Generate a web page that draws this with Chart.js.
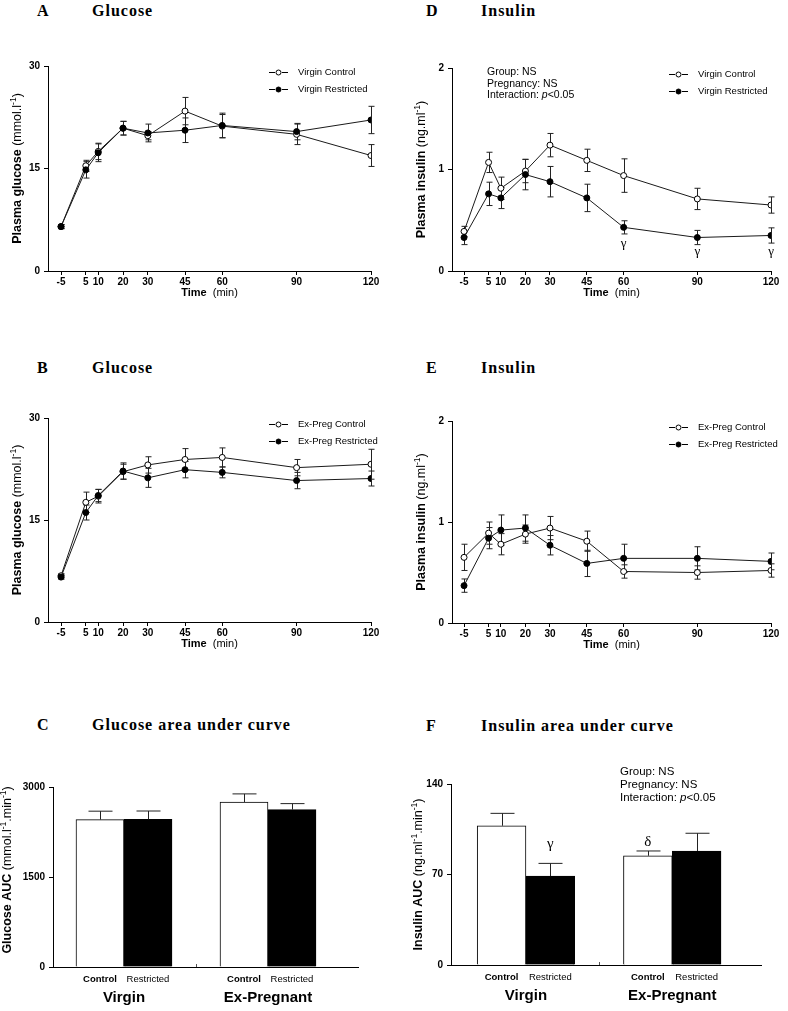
<!DOCTYPE html>
<html lang="en">
<head>
<meta charset="UTF-8">
<title>Glucose and insulin tolerance</title>
<script src="https://cdn.jsdelivr.net/npm/chart.js@4/dist/chart.umd.min.js"></script>
<style>
  body { margin: 0; width: 788px; height: 1011px; position: relative; background: #fff; overflow: hidden; }
  canvas { position: absolute; }
  .ttl { position: absolute; font: bold 16px "Liberation Serif", "Times New Roman", serif; letter-spacing: 1px; line-height: 20px; white-space: nowrap; color: #000; }
</style>
</head>
<body>
<div class="ttl" style="left:37px;top:1px">A</div>
<div class="ttl" style="left:92px;top:1px">Glucose</div>
<div class="ttl" style="left:426px;top:1px">D</div>
<div class="ttl" style="left:481px;top:1px">Insulin</div>
<div class="ttl" style="left:37px;top:358px">B</div>
<div class="ttl" style="left:92px;top:358px">Glucose</div>
<div class="ttl" style="left:426px;top:358px">E</div>
<div class="ttl" style="left:481px;top:358px">Insulin</div>
<div class="ttl" style="left:37px;top:715px">C</div>
<div class="ttl" style="left:92px;top:715px">Glucose area under curve</div>
<div class="ttl" style="left:426px;top:716px">F</div>
<div class="ttl" style="left:481px;top:716px">Insulin area under curve</div>

<canvas id="pA" width="394" height="270" style="left:0;top:40px"></canvas>
<canvas id="pD" width="394" height="270" style="left:394px;top:40px"></canvas>
<canvas id="pB" width="394" height="270" style="left:0;top:390px"></canvas>
<canvas id="pE" width="394" height="270" style="left:394px;top:390px"></canvas>
<canvas id="pC" width="394" height="261" style="left:0;top:750px"></canvas>
<canvas id="pF" width="394" height="261" style="left:394px;top:750px"></canvas>

<script>
// sampling times (min)
const times = [-5, 5, 10, 20, 30, 45, 60, 90, 120];

// A: virgin glucose (mmol/l), mean and SEM
const virginCtrlGlucose    = [6.5, 15.4, 17.5, 20.9, 19.8, 23.4, 21.2, 20.0, 16.9];
const virginCtrlGlucoseSem = [0.3, 0.8, 1.2, 1.0, 0.6, 2.0, 1.7, 1.5, 1.6];
const virginRestGlucose    = [6.5, 14.8, 17.3, 20.9, 20.2, 20.6, 21.3, 20.4, 22.1];
const virginRestGlucoseSem = [0.3, 1.2, 1.3, 1.0, 1.3, 1.8, 1.8, 1.2, 2.0];

// B: ex-pregnant glucose
const exCtrlGlucose    = [6.8, 17.6, 18.5, 22.1, 23.1, 23.9, 24.2, 22.7, 23.2];
const exCtrlGlucoseSem = [0.3, 1.5, 1.0, 1.1, 1.2, 1.6, 1.4, 1.2, 2.2];
const exRestGlucose    = [6.6, 16.1, 18.6, 22.2, 21.2, 22.4, 22.0, 20.8, 21.1];
const exRestGlucoseSem = [0.3, 1.1, 0.9, 1.2, 1.4, 1.2, 0.8, 1.2, 1.1];

// D: virgin insulin (ng/ml)
const virginCtrlInsulin    = [0.39, 1.07, 0.815, 0.985, 1.24, 1.09, 0.94, 0.71, 0.65];
const virginCtrlInsulinSem = [0.05, 0.10, 0.11, 0.115, 0.115, 0.11, 0.165, 0.105, 0.08];
const virginRestInsulin    = [0.33, 0.76, 0.72, 0.95, 0.88, 0.72, 0.43, 0.33, 0.35];
const virginRestInsulinSem = [0.07, 0.115, 0.105, 0.15, 0.15, 0.135, 0.065, 0.07, 0.075];
const virginSigTimes = [60, 90, 120];
const virginSigY     = [0.27, 0.19, 0.19];

// E: ex-pregnant insulin
const exCtrlInsulin    = [0.65, 0.89, 0.78, 0.88, 0.94, 0.81, 0.51, 0.50, 0.52];
const exCtrlInsulinSem = [0.13, 0.11, 0.105, 0.09, 0.115, 0.10, 0.066, 0.066, 0.066];
const exRestInsulin    = [0.37, 0.84, 0.92, 0.94, 0.77, 0.59, 0.64, 0.64, 0.61];
const exRestInsulinSem = [0.066, 0.105, 0.15, 0.13, 0.096, 0.13, 0.14, 0.115, 0.083];

// C, F: areas under curve
const groups = ['Virgin', 'Ex-Pregnant'];
const treatments = ['Control', 'Restricted'];
const glucoseAuc    = [2457, 2460, 2750, 2623];
const glucoseAucSem = [140, 140, 135, 100];
const insulinAuc    = [107.7, 68.8, 84.5, 88.2];
const insulinAucSem = [9.6, 9.8, 3.7, 13.7];
const insulinAucMarks = ['', '\u03b3', '\u03b4', ''];
const insulinAucMarkY = [0, 93.5, 95, 0];

const SANS = "'Liberation Sans', Arial, sans-serif";
const SERIF = "'Liberation Serif', 'Times New Roman', serif";
Chart.defaults.font.family = SANS;
Chart.defaults.color = '#000';

const statsNote = [
  [{t: 'Group: NS'}],
  [{t: 'Pregnancy: NS'}],
  [{t: 'Interaction: '}, {t: 'p', it: 1}, {t: '<0.05'}]
];

// draws a run of text pieces with mixed weight / italic / superscript
function drawRich(ctx, parts, x, y, size, align, angle) {
  const fontOf = p => (p.it ? 'italic ' : '') + (p.b ? 'bold ' : '') + (p.sup ? size * 0.68 : size) + 'px ' + SANS;
  let w = 0;
  parts.forEach(p => { ctx.font = fontOf(p); w += ctx.measureText(p.t).width; });
  ctx.save();
  ctx.translate(x, y);
  ctx.rotate(angle || 0);
  ctx.fillStyle = '#000';
  ctx.textBaseline = 'middle';
  ctx.textAlign = 'left';
  let cx = align === 'left' ? 0 : -w / 2;
  parts.forEach(p => {
    ctx.font = fontOf(p);
    ctx.fillText(p.t, cx, p.sup ? -size * 0.36 : 0);
    cx += ctx.measureText(p.t).width;
  });
  ctx.restore();
}

function drawErrors(chart, upOnly, cap) {
  const ctx = chart.ctx, ys = chart.scales.y;
  ctx.save();
  ctx.strokeStyle = '#222';
  ctx.lineWidth = 1;
  chart.data.datasets.forEach((ds, i) => {
    if (!ds.errors) return;
    const meta = chart.getDatasetMeta(i);
    meta.data.forEach((el, j) => {
      const v = ds.data[j].y, e = ds.errors[j];
      const x = Math.round(el.x) + 0.5;
      const top = ys.getPixelForValue(v + e);
      const bot = upOnly ? ys.getPixelForValue(v) : ys.getPixelForValue(v - e);
      ctx.beginPath();
      ctx.moveTo(x, top); ctx.lineTo(x, bot);
      ctx.moveTo(x - cap, top); ctx.lineTo(x + cap, top);
      if (!upOnly) { ctx.moveTo(x - cap, bot); ctx.lineTo(x + cap, bot); }
      ctx.stroke();
    });
  });
  ctx.restore();
}

const extrasFor = {};
const extras = {
  id: 'extras',
  beforeDatasetsDraw(chart) {
    if (chart.config.type === 'line') drawErrors(chart, false, 3);
  },
  afterDatasetsDraw(chart) {
    if (chart.config.type === 'bar') drawErrors(chart, true, 12);
  },
  afterDraw(chart) {
    const o = extrasFor[chart.canvas.id];
    const ctx = chart.ctx, a = chart.chartArea;
    const xs = chart.scales.x, ys = chart.scales.y;
    drawRich(ctx, o.yTitle, a.left - o.yTitleOff, (a.top + a.bottom) / 2 + (o.yTitleShift || 0), 12.5, 'center', -Math.PI / 2);
    if (o.xTitle) drawRich(ctx, o.xTitle, (a.left + a.right) / 2, a.bottom + 22, 11, 'center');
    if (o.note) o.note.forEach((line, k) => drawRich(ctx, line, a.left + o.noteX, a.top + o.noteY + k * o.noteLh, o.noteSize, 'left'));
    // legend
    if (o.legend) {
      ctx.save();
      chart.data.datasets.forEach((ds, i) => {
        const y = Math.round(a.top + 6 + i * 17) + 0.5;
        const x0 = a.right - 102;
        ctx.strokeStyle = '#000'; ctx.lineWidth = 1;
        ctx.beginPath();
        ctx.moveTo(x0, y); ctx.lineTo(x0 + 6, y);
        ctx.moveTo(x0 + 13, y); ctx.lineTo(x0 + 19, y);
        ctx.stroke();
        ctx.beginPath();
        ctx.arc(x0 + 9.5, y, 2.5, 0, Math.PI * 2);
        ctx.fillStyle = ds.pointBackgroundColor; ctx.fill(); ctx.stroke();
        ctx.fillStyle = '#000';
        ctx.font = '9.5px ' + SANS;
        ctx.textBaseline = 'middle';
        ctx.fillText(ds.label, a.right - 73, y);
      });
      ctx.restore();
    }
    // significance symbols
    if (o.marks) {
      ctx.save();
      ctx.fillStyle = '#000';
      ctx.font = o.markSize + 'px ' + SERIF;
      ctx.textAlign = 'center';
      ctx.textBaseline = 'middle';
      o.marks.forEach(m => { if (m.t) ctx.fillText(m.t, xs.getPixelForValue(m.x), ys.getPixelForValue(m.y)); });
      ctx.restore();
    }
    // group names under the bar pairs + small separator tick
    if (o.groupPos) {
      ctx.save();
      ctx.fillStyle = '#000';
      ctx.font = 'bold 15px ' + SANS;
      ctx.textAlign = 'center';
      ctx.textBaseline = 'middle';
      groups.forEach((g, gi) => {
        const px = (xs.getPixelForValue(o.groupPos[gi][0]) + xs.getPixelForValue(o.groupPos[gi][1])) / 2;
        ctx.fillText(g, px, a.bottom + 31);
      });
      const sx = Math.round(xs.getPixelForValue(o.sepPos)) + 0.5;
      ctx.strokeStyle = '#555';
      ctx.beginPath(); ctx.moveTo(sx, a.bottom); ctx.lineTo(sx, a.bottom - 3); ctx.stroke();
      ctx.restore();
    }
  }
};

const axisGrid = {drawOnChartArea: false, tickLength: 4, color: '#000', lineWidth: 1};
const axisBorder = {color: '#000', width: 1};

function makeLine(id, o) {
  o.legend = true;
  o.xTitle = [{t: 'Time', b: 1}, {t: '  (min)'}];
  extrasFor[id] = o;
  const mk = (label, vals, errs, fill, order) => ({
    label: label, errors: errs, order: order,
    data: times.map((t, i) => ({x: t, y: vals[i]})),
    borderColor: '#1a1a1a', borderWidth: 1,
    pointRadius: 3, pointBorderWidth: 1,
    pointBackgroundColor: fill, pointBorderColor: '#000'
  });
  return new Chart(document.getElementById(id), {
    type: 'line',
    data: {datasets: [
      mk(o.names[0], o.ctrl, o.ctrlSem, '#fff', 1),
      mk(o.names[1], o.rest, o.restSem, '#000', 0)
    ]},
    options: {
      responsive: false, animation: false, events: [],
      layout: {padding: {left: 0, right: o.padR, top: o.padT, bottom: 0}},
      plugins: {legend: {display: false}, tooltip: {enabled: false}},
      scales: {
        x: {
          type: 'linear', min: o.xMin, max: 120,
          afterBuildTicks: s => { s.ticks = times.map(v => ({value: v})); },
          afterFit: s => { s.height = o.xH; },
          grid: axisGrid, border: axisBorder,
          ticks: {font: {size: 10, weight: 'bold'}, padding: 1, maxRotation: 0, autoSkip: false, callback: v => String(v)}
        },
        y: {
          min: 0, max: o.yMax,
          afterBuildTicks: s => { s.ticks = o.yTicks.map(v => ({value: v})); },
          afterFit: s => { s.width = o.yW; },
          grid: axisGrid, border: axisBorder,
          ticks: {font: {size: 10, weight: 'bold'}, padding: 4, callback: v => String(v)}
        }
      }
    },
    plugins: [extras]
  });
}

function makeBar(id, o) {
  // bar position = group * (treatments + gap) + treatment
  const pos = [];
  groups.forEach((g, gi) => treatments.forEach((t, ti) => pos.push(gi * (treatments.length + 1) + ti)));
  o.groupPos = groups.map((g, gi) => [pos[gi * 2], pos[gi * 2 + 1]]);
  o.sepPos = treatments.length;
  extrasFor[id] = o;
  return new Chart(document.getElementById(id), {
    type: 'bar',
    data: {datasets: [{
      label: o.label, errors: o.sem,
      data: pos.map((x, i) => ({x: x, y: o.vals[i]})),
      backgroundColor: pos.map((x, i) => i % 2 ? '#000' : '#fff'),
      borderColor: '#000', borderWidth: 1,
      barPercentage: 1, categoryPercentage: 1
    }]},
    options: {
      responsive: false, animation: false, events: [],
      layout: {padding: {left: 0, right: o.padR, top: o.padT, bottom: 0}},
      plugins: {legend: {display: false}, tooltip: {enabled: false}},
      scales: {
        x: {
          type: 'linear', min: o.xMin, max: o.xMax, offset: false,
          afterBuildTicks: s => { s.ticks = pos.map(v => ({value: v})); },
          afterFit: s => { s.height = o.xH; },
          grid: {drawOnChartArea: false, drawTicks: false, offset: false}, border: axisBorder,
          ticks: {
            padding: 7, maxRotation: 0, autoSkip: false,
            font: c => ({size: 9.5, weight: c.index % 2 ? 'normal' : 'bold'}),
            callback: v => treatments[pos.indexOf(v) % treatments.length]
          }
        },
        y: {
          min: 0, max: o.yMax,
          afterBuildTicks: s => { s.ticks = o.yTicks.map(v => ({value: v})); },
          afterFit: s => { s.width = o.yW; },
          grid: axisGrid, border: axisBorder,
          ticks: {font: {size: 10, weight: 'bold'}, padding: 4, callback: v => String(v)}
        }
      }
    },
    plugins: [extras]
  });
}

const glucoseTitle = [{t: 'Plasma glucose', b: 1}, {t: ' (mmol.l'}, {t: '-1', sup: 1}, {t: ')'}];
const insulinTitle = [{t: 'Plasma insulin', b: 1}, {t: ' (ng.ml'}, {t: '-1', sup: 1}, {t: ')'}];

makeLine('pA', {
  names: ['Virgin Control', 'Virgin Restricted'],
  ctrl: virginCtrlGlucose, ctrlSem: virginCtrlGlucoseSem, rest: virginRestGlucose, restSem: virginRestGlucoseSem,
  yMax: 30, yTicks: [0, 15, 30], xMin: -10.25, yW: 48, padT: 26, padR: 23, xH: 39,
  yTitle: glucoseTitle, yTitleOff: 30
});
makeLine('pB', {
  names: ['Ex-Preg Control', 'Ex-Preg Restricted'],
  ctrl: exCtrlGlucose, ctrlSem: exCtrlGlucoseSem, rest: exRestGlucose, restSem: exRestGlucoseSem,
  yMax: 30, yTicks: [0, 15, 30], xMin: -10.25, yW: 48, padT: 28, padR: 23, xH: 38,
  yTitle: glucoseTitle, yTitleOff: 30
});
makeLine('pD', {
  names: ['Virgin Control', 'Virgin Restricted'],
  ctrl: virginCtrlInsulin, ctrlSem: virginCtrlInsulinSem, rest: virginRestInsulin, restSem: virginRestInsulinSem,
  yMax: 2, yTicks: [0, 1, 2], xMin: -9.9, yW: 58, padT: 28, padR: 17, xH: 39,
  yTitle: insulinTitle, yTitleOff: 30,
  note: statsNote, noteX: 35, noteY: 4, noteLh: 11.7, noteSize: 10.5,
  marks: virginSigTimes.map((t, i) => ({x: t, y: virginSigY[i], t: '\u03b3'})), markSize: 13
});
makeLine('pE', {
  names: ['Ex-Preg Control', 'Ex-Preg Restricted'],
  ctrl: exCtrlInsulin, ctrlSem: exCtrlInsulinSem, rest: exRestInsulin, restSem: exRestInsulinSem,
  yMax: 2, yTicks: [0, 1, 2], xMin: -9.9, yW: 58, padT: 31, padR: 17, xH: 37,
  yTitle: insulinTitle, yTitleOff: 30
});
makeBar('pC', {
  label: 'Glucose AUC', vals: glucoseAuc, sem: glucoseAucSem,
  yMax: 3000, yTicks: [0, 1500, 3000], xMin: -0.979, xMax: 5.375, yW: 53, padT: 37, padR: 36, xH: 44,
  yTitle: [{t: 'Glucose AUC', b: 1}, {t: ' (mmol.l'}, {t: '-1', sup: 1}, {t: '.min'}, {t: '-1', sup: 1}, {t: ')'}],
  yTitleOff: 45, yTitleShift: -7
});
makeBar('pF', {
  label: 'Insulin AUC', vals: insulinAuc, sem: insulinAucSem,
  yMax: 140, yTicks: [0, 70, 140], xMin: -1.037, xMax: 5.32, yW: 57, padT: 34, padR: 27, xH: 46,
  yTitle: [{t: 'Insulin AUC', b: 1}, {t: ' (ng.ml'}, {t: '-1', sup: 1}, {t: '.min'}, {t: '-1', sup: 1}, {t: ')'}],
  yTitleOff: 32,
  note: statsNote, noteX: 169, noteY: -12, noteLh: 13, noteSize: 11.5,
  marks: insulinAuc.map((v, i) => ({x: i < 2 ? i : i + 1, y: insulinAucMarkY[i], t: insulinAucMarks[i]})), markSize: 15
});
</script>
</body>
</html>
